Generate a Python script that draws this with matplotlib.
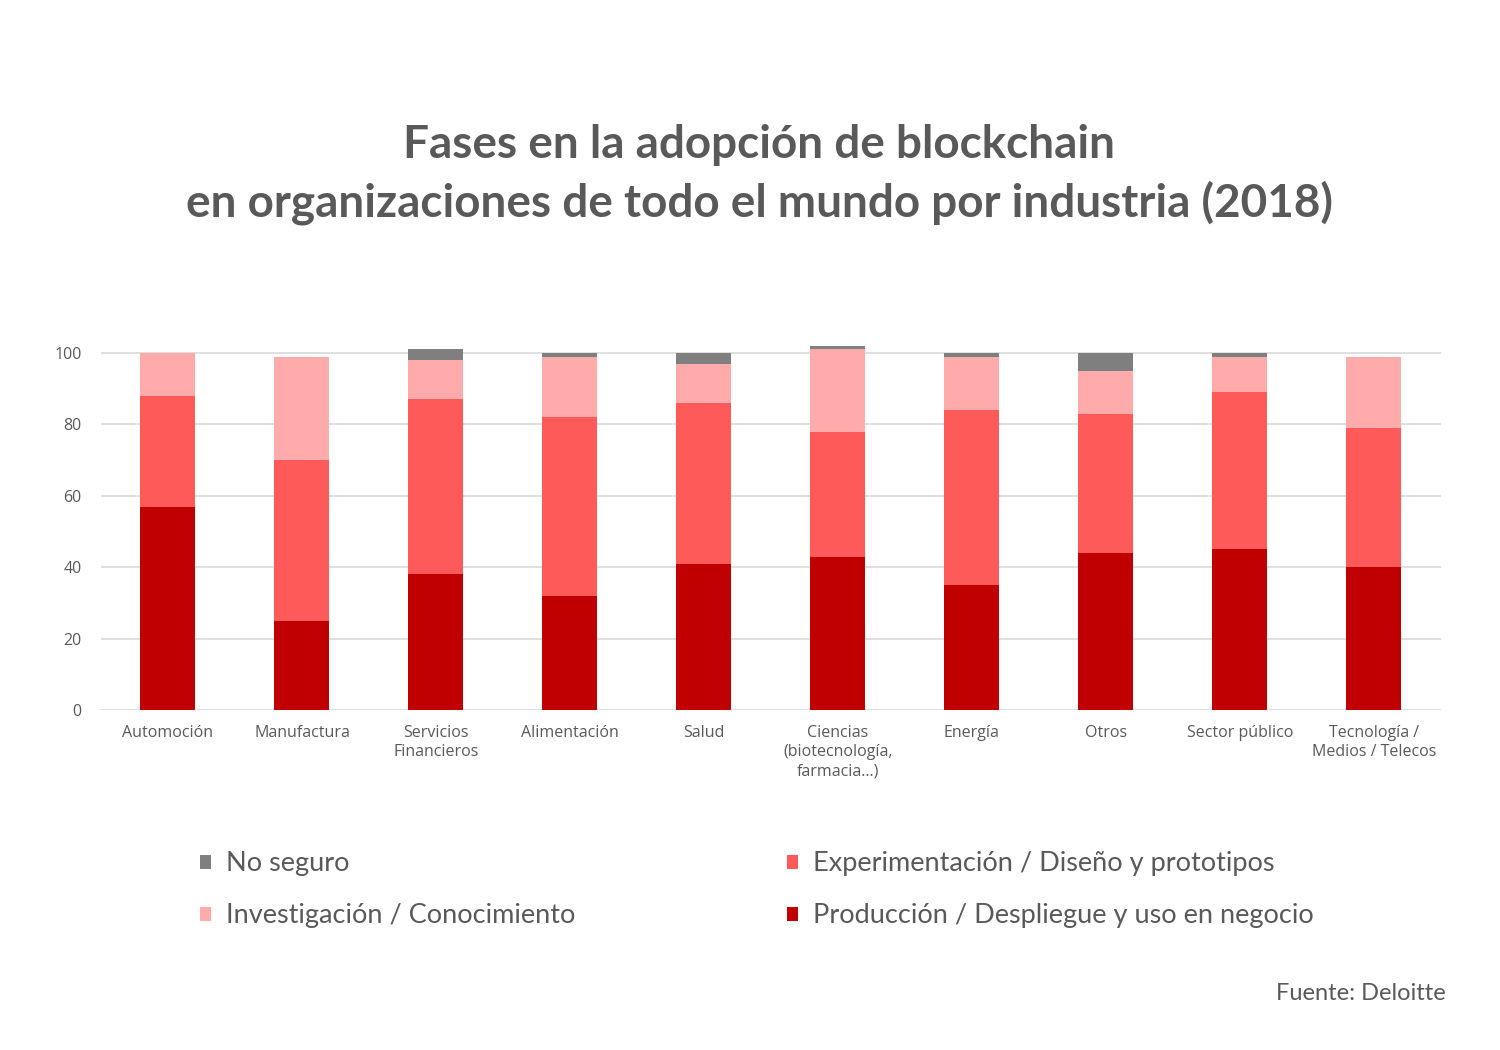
import matplotlib
matplotlib.use("Agg")
import matplotlib.pyplot as plt
import numpy as np
from matplotlib.patches import Patch

categories = ["Automoción", "Manufactura", "Servicios\nFinancieros", "Alimentación", "Salud",
              "Ciencias\n(biotecnología,\nfarmacia...)", "Energía", "Otros", "Sector público",
              "Tecnología /\nMedios / Telecos"]
produccion = [57, 25, 38, 32, 41, 43, 35, 44, 45, 40]
experimentacion = [31, 45, 49, 50, 45, 35, 49, 39, 44, 39]
investigacion = [12, 29, 11, 17, 11, 23, 15, 12, 10, 20]
no_seguro = [0, 0, 3, 1, 3, 1, 1, 5, 1, 0]

series = [
    ("Producción / Despliegue y uso en negocio", produccion, "#c00000"),
    ("Experimentación / Diseño y prototipos", experimentacion, "#ff5a5a"),
    ("Investigación / Conocimiento", investigacion, "#ffabab"),
    ("No seguro", no_seguro, "#7f7f7f"),
]

TEXT = "#595959"

fig = plt.figure(figsize=(15, 10.5), dpi=100)
ax = fig.add_axes([0.0673, 0.3238, 0.8933, 0.3502])

x = np.arange(len(categories))
bottom = np.zeros(len(categories))
handles = {}
for label, vals, color in series:
    vals = np.array(vals, dtype=float)
    ax.bar(x, vals, bottom=bottom, width=0.41, color=color, edgecolor="none", zorder=3)
    handles[label] = Patch(facecolor=color, label=label)
    bottom += vals

ax.set_xlim(-0.5, len(categories) - 0.5)
ax.set_ylim(0, 103)
ax.set_yticks(range(0, 101, 20))
ax.grid(axis="y", color="#d9d9d9", linewidth=1.2, zorder=0)
ax.set_xticks(x)
ax.set_xticklabels(categories, fontsize=11.5, color=TEXT, family="Open Sans", linespacing=1.25)
for lbl in ax.get_yticklabels():
    lbl.set_fontsize(11.5)
    lbl.set_color(TEXT)
    lbl.set_family("Open Sans")
ax.tick_params(length=0, pad=11)
ax.tick_params(axis="y", pad=14)
for s in ax.spines.values():
    s.set_visible(False)

fig.text(0.506, 0.8615, "Fases en la adopción de blockchain", ha="center", va="center",
         fontsize=33, fontweight="bold", color=TEXT, family="Lato")
fig.text(0.506, 0.807, "en organizaciones de todo el mundo por industria (2018)", ha="center", va="center",
         fontsize=33, fontweight="bold", color=TEXT, family="Lato")

order = ["No seguro", "Investigación / Conocimiento",
         "Experimentación / Diseño y prototipos", "Producción / Despliegue y uso en negocio"]
leg = fig.legend([handles[k] for k in order], order, ncol=2, loc="upper left",
                 bbox_to_anchor=(0.117, 0.2125), frameon=False,
                 handlelength=0.42, handleheight=0.42, handletextpad=0.55,
                 columnspacing=7.8, labelspacing=1.0, prop={"family": "Lato", "size": 19.5})
for t in leg.get_texts():
    t.set_color(TEXT)

fig.text(0.964, 0.054, "Fuente: Deloitte", ha="right", va="center", fontsize=17,
         color=TEXT, family="Lato")

plt.savefig("out.png", dpi=100)
